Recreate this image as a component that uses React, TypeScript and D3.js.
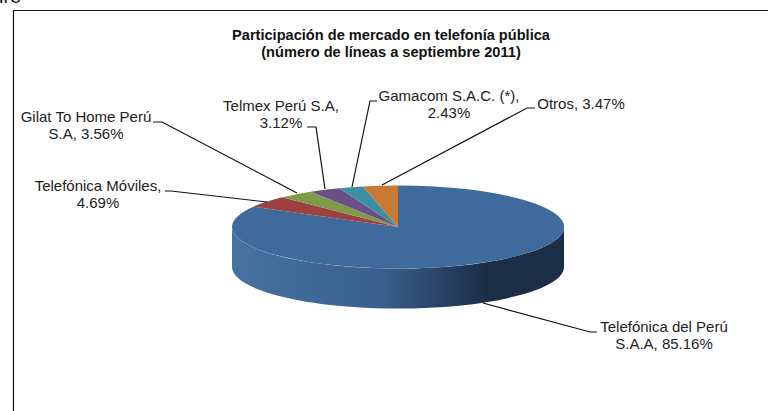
import React from 'react';
import * as d3 from 'd3';

const categories = ['Telefónica del Perú S.A.A', 'Telefónica Móviles', 'Gilat To Home Perú S.A', 'Telmex Perú S.A', 'Gamacom S.A.C. (*)', 'Otros'];
const shares = [85.16, 4.69, 3.56, 3.12, 2.43, 3.47];
const sliceColors = ['#3f6a9c', '#9c4140', '#7f9a48', '#6a4f86', '#3c8ea5', '#c87934'];
const titleLines = ['Participación de mercado en telefonía pública', '(número de líneas a septiembre 2011)'];

// label layout, same order as categories
const labelLines = [
  ['Telefónica del Perú', 'S.A.A, 85.16%'],
  ['Telefónica Móviles,', '4.69%'],
  ['Gilat To Home Perú', 'S.A, 3.56%'],
  ['Telmex Perú S.A,', '3.12%'],
  ['Gamacom S.A.C. (*),', '2.43%'],
  ['Otros, 3.47%'],
];
const labelCenters = [664, 98, 86, 281, 449, 581];
const labelTops = [332, 191, 122, 111, 101, 109];
const leaders = [
  'M597,332 L590,332 L483,303',
  'M165,191 L171,191 L267,202',
  'M153,122 L162,122 L297,193',
  'M307,127 L316,127 L325,189',
  'M377,101 L370,101 L352,187',
  'M535,108 L527,108 L382,185',
];

const cx = 398;
const cy = 227;
const rx = 166;
const ry = 41.5;
const depth = 40;

export default function App() {
  const slices = d3.pie<number>().sort(null)(shares);
  const arc = d3.arc<d3.PieArcDatum<number>>().innerRadius(0).outerRadius(1);

  const rim = d3.path();
  rim.moveTo(cx - rx, cy);
  rim.bezierCurveTo(cx - rx, cy + ry * 0.5523, cx - rx * 0.5523, cy + ry, cx, cy + ry);
  rim.bezierCurveTo(cx + rx * 0.5523, cy + ry, cx + rx, cy + ry * 0.5523, cx + rx, cy);
  rim.lineTo(cx + rx, cy + depth);
  rim.bezierCurveTo(cx + rx, cy + depth + ry * 0.5523, cx + rx * 0.5523, cy + depth + ry, cx, cy + depth + ry);
  rim.bezierCurveTo(cx - rx * 0.5523, cy + depth + ry, cx - rx, cy + depth + ry * 0.5523, cx - rx, cy + depth);
  rim.closePath();

  return (
    <svg
      width={768}
      height={411}
      style={{ position: 'absolute', left: 0, top: 0, background: '#fff' }}
      fontFamily="'Liberation Sans', Arial, sans-serif"
    >
      <defs>
        <linearGradient id="rimFill" gradientUnits="userSpaceOnUse" x1={cx - rx} x2={cx + rx} y1={0} y2={0}>
          <stop offset="0" stopColor="#47729f" />
          <stop offset="0.45" stopColor="#3a5f8e" />
          <stop offset="0.77" stopColor="#1b2d47" />
          <stop offset="1" stopColor="#1b2d47" />
        </linearGradient>
      </defs>

      <text x={-1} y={3} fontSize={20} fill="#111">
        ire
      </text>
      <path d="M13.5,411 V10.5 H768" fill="none" stroke="#111" strokeWidth={1.2} />

      {titleLines.map((line, i) => (
        <text key={line} x={391} y={40 + i * 16.5} textAnchor="middle" fontSize={14.6} fontWeight="bold" fill="#111">
          {line}
        </text>
      ))}

      <path d={rim.toString()} fill="url(#rimFill)" />
      <g transform={`translate(${cx},${cy}) scale(${rx},${ry})`}>
        {slices.map((s, i) => (
          <path key={categories[i]} d={arc(s) ?? ''} fill={sliceColors[i]} />
        ))}
      </g>

      {leaders.map((d, i) => (
        <path key={categories[i]} d={d} fill="none" stroke="#111" strokeWidth={1.2} />
      ))}

      {labelLines.map((lines, i) =>
        lines.map((line, j) => (
          <text
            key={line}
            x={labelCenters[i]}
            y={labelTops[i] + j * 16.5}
            textAnchor="middle"
            fontSize={15}
            fill="#222"
          >
            {line}
          </text>
        ))
      )}
    </svg>
  );
}
